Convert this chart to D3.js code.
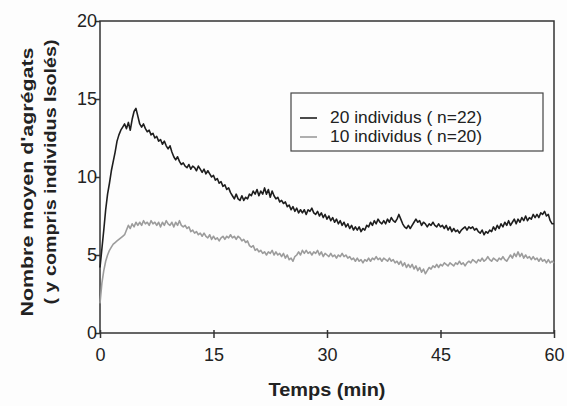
<!DOCTYPE html>
<html>
<head>
<meta charset="utf-8">
<script src="https://cdn.jsdelivr.net/npm/d3@7/dist/d3.min.js"></script>
<style>
  html, body { margin: 0; padding: 0; background: #fff; }
  svg { display: block; font-family: "Liberation Sans", Arial, sans-serif; }
</style>
</head>
<body>
<svg id="chart" width="567" height="406"></svg>
<script>
// ---- data ----
const timeStep = 0.25; // minutes between samples
const xTicks = [0, 15, 30, 45, 60];
const yTicks = [0, 5, 10, 15, 20];
const seriesNames = ["20 individus ( n=22)", "10 individus ( n=20)"];
const xTitle = "Temps (min)";
const yTitle1 = "Nombre moyen d'agrégats";
const yTitle2 = "( y compris individus Isolés)";

// 20 individus (n=22), one value every 0.25 min from 0 to 60
const ind20 = [
  4.2, 5.4, 6.6, 7.9,      // 0
  8.9, 9.6, 10.4, 11.0,    // 1
  11.6, 12.3, 12.7, 13.0,  // 2
  13.2, 13.4, 13.1, 13.5,  // 3
  13.0, 13.7, 14.2, 14.4,  // 4
  13.9, 13.4, 13.2, 13.4,  // 5
  13.1, 12.9, 13.0, 12.7,  // 6
  12.8, 12.5, 12.6, 12.3,  // 7
  12.4, 12.1, 12.3, 12.0,  // 8
  11.8, 12.0, 11.6, 11.3,  // 9
  11.1, 11.3, 11.0, 10.8,  // 10
  10.9, 10.7, 10.6, 10.8,  // 11
  10.5, 10.7, 10.6, 10.4,  // 12
  10.7, 10.5, 10.3, 10.5,  // 13
  10.2, 10.4, 10.2, 10.0,  // 14
  10.1, 9.8, 9.9, 9.6,     // 15
  9.7, 9.4, 9.5, 9.2,      // 16
  9.3, 9.0, 8.8, 8.6,      // 17
  8.9, 8.6, 8.5, 8.8,      // 18
  8.5, 8.7, 8.6, 8.9,      // 19
  8.8, 9.1, 8.9, 9.2,      // 20
  8.8, 9.1, 8.9, 9.3,      // 21
  8.9, 9.2, 8.7, 9.1,      // 22
  8.8, 8.6, 8.7, 8.4,      // 23
  8.5, 8.3, 8.4, 8.1,      // 24
  8.2, 7.9, 8.1, 7.8,      // 25
  8.0, 7.7, 7.9, 7.7,      // 26
  7.9, 7.6, 7.9, 7.8,      // 27
  8.0, 7.7, 7.6, 7.8,      // 28
  7.5, 7.7, 7.4, 7.6,      // 29
  7.3, 7.5, 7.2, 7.4,      // 30
  7.1, 7.3, 7.0, 7.2,      // 31
  6.9, 7.1, 6.8, 7.0,      // 32
  6.7, 6.9, 6.6, 6.8,      // 33
  6.6, 6.8, 6.5, 6.7,      // 34
  6.6, 6.9, 6.8, 7.1,      // 35
  6.9, 7.2, 7.0, 7.3,      // 36
  7.1, 7.0, 7.2, 7.0,      // 37
  7.3, 7.1, 7.4, 7.2,      // 38
  7.1, 7.3, 7.6, 7.3,      // 39
  7.0, 6.8, 6.7, 6.9,      // 40
  6.7, 6.9, 7.1, 7.3,      // 41
  7.1, 7.2, 6.9, 7.1,      // 42
  7.0, 6.8, 7.0, 6.9,      // 43
  7.1, 6.9, 6.8, 7.0,      // 44
  6.8, 6.9, 6.7, 6.9,      // 45
  6.6, 6.8, 6.5, 6.7,      // 46
  6.5, 6.6, 6.4, 6.6,      // 47
  6.7, 6.8, 6.6, 6.8,      // 48
  6.7, 6.8, 6.6, 6.7,      // 49
  6.5, 6.4, 6.6, 6.3,      // 50
  6.5, 6.4, 6.6, 6.5,      // 51
  6.8, 6.6, 6.9, 6.7,      // 52
  7.0, 6.8, 7.1, 6.9,      // 53
  7.2, 6.9, 7.1, 7.3,      // 54
  7.0, 7.3, 7.1, 7.4,      // 55
  7.2, 7.5, 7.2, 7.4,      // 56
  7.3, 7.6, 7.4, 7.6,      // 57
  7.4, 7.7, 7.6, 7.8,      // 58
  7.5, 7.6, 7.2, 7.0,      // 59
  7.0                      // 60
];

// 10 individus (n=20), one value every 0.25 min from 0 to 60
const ind10 = [
  1.9, 3.2, 4.0, 4.6,      // 0
  5.0, 5.3, 5.5, 5.7,      // 1
  5.8, 5.9, 6.0, 6.1,      // 2
  6.2, 6.3, 6.6, 6.9,      // 3
  6.7, 7.0, 6.8, 7.1,      // 4
  6.9, 7.1, 6.9, 7.2,      // 5
  7.0, 7.1, 6.9, 7.2,      // 6
  7.0, 7.1, 6.9, 7.1,      // 7
  6.8, 7.1, 6.9, 7.2,      // 8
  7.0, 6.9, 7.1, 6.8,      // 9
  7.1, 6.9, 7.2, 6.9,      // 10
  6.8, 6.9, 6.7, 6.8,      // 11
  6.5, 6.6, 6.4, 6.5,      // 12
  6.3, 6.4, 6.2, 6.4,      // 13
  6.2, 6.1, 6.3, 6.0,      // 14
  6.2, 6.0, 6.1, 5.9,      // 15
  6.1, 6.2, 6.0, 6.2,      // 16
  6.1, 6.3, 6.1, 6.2,      // 17
  6.0, 6.2, 6.1, 5.9,      // 18
  6.0, 5.8, 5.9, 5.6,      // 19
  5.5, 5.6, 5.3, 5.4,      // 20
  5.2, 5.3, 5.1, 5.2,      // 21
  5.0, 5.2, 5.1, 5.3,      // 22
  5.0, 5.2, 5.0, 5.1,      // 23
  4.9, 5.1, 4.8, 5.0,      // 24
  4.7, 4.8, 4.6, 4.9,      // 25
  5.0, 5.2, 5.0, 5.3,      // 26
  5.1, 5.3, 5.1, 5.2,      // 27
  5.0, 5.2, 5.1, 5.3,      // 28
  5.0, 5.2, 4.9, 5.1,      // 29
  5.0, 4.9, 5.1, 4.9,      // 30
  5.0, 4.8, 5.0, 4.9,      // 31
  5.1, 4.9, 5.0, 4.8,      // 32
  4.9, 4.7, 4.8, 4.6,      // 33
  4.8, 4.6, 4.7, 4.5,      // 34
  4.7, 4.6, 4.8, 4.6,      // 35
  4.8, 4.7, 4.9, 4.7,      // 36
  4.8, 4.6, 4.8, 4.7,      // 37
  4.6, 4.8, 4.6, 4.7,      // 38
  4.5, 4.6, 4.4, 4.6,      // 39
  4.3, 4.5, 4.2, 4.4,      // 40
  4.2, 4.4, 4.1, 4.3,      // 41
  4.0, 4.2, 3.9, 4.1,      // 42
  3.8, 4.0, 4.2, 4.1,      // 43
  4.3, 4.2, 4.4, 4.2,      // 44
  4.4, 4.3, 4.5, 4.4,      // 45
  4.3, 4.5, 4.4, 4.3,      // 46
  4.5, 4.4, 4.6, 4.4,      // 47
  4.5, 4.3, 4.5, 4.6,      // 48
  4.5, 4.7, 4.6, 4.5,      // 49
  4.7, 4.6, 4.8, 4.6,      // 50
  4.7, 4.9, 4.7, 4.6,      // 51
  4.8, 4.7, 4.6, 4.8,      // 52
  4.7, 4.9, 4.7, 4.6,      // 53
  4.8, 5.0, 4.8, 5.1,      // 54
  4.9, 5.2, 4.9, 5.1,      // 55
  4.8, 5.0, 4.8, 4.9,      // 56
  4.7, 4.9, 4.7, 4.8,      // 57
  4.6, 4.8, 4.6, 4.7,      // 58
  4.5, 4.7, 4.5, 4.6,      // 59
  4.5                      // 60
];

const seriesColors = ["#1e1e1e", "#9c9c9c"];

// ---- chart ----
const svg = d3.select("#chart");
svg.append("rect").attr("width", 567).attr("height", 406).attr("fill", "#fdfdfd");

const x = d3.scaleLinear().domain([0, 60]).range([100, 554]);
const y = d3.scaleLinear().domain([0, 20]).range([333, 21]);

const axisColor = "#333";

// frame
svg.append("rect")
  .attr("x", x(0)).attr("y", y(20))
  .attr("width", x(60) - x(0)).attr("height", y(0) - y(20))
  .attr("fill", "none").attr("stroke", axisColor).attr("stroke-width", 1.5);

// x axis
const gx = svg.append("g")
  .attr("transform", `translate(0,${y(0)})`)
  .call(d3.axisBottom(x).tickValues(xTicks).tickSizeInner(5).tickSizeOuter(0).tickPadding(10));
gx.select(".domain").remove();
gx.selectAll(".tick line").attr("stroke", axisColor).attr("stroke-width", 1.5).attr("y1", -3);
gx.selectAll(".tick text").attr("font-size", 18).attr("fill", "#222")
  .attr("font-family", "Liberation Sans, Arial, sans-serif");

// y axis
const gy = svg.append("g")
  .attr("transform", `translate(${x(0)},0)`)
  .call(d3.axisLeft(y).tickValues(yTicks).tickSizeInner(5).tickSizeOuter(0).tickPadding(-2));
gy.select(".domain").remove();
gy.selectAll(".tick line").attr("stroke", axisColor).attr("stroke-width", 1.5);
gy.selectAll(".tick text").attr("font-size", 18).attr("fill", "#222")
  .attr("font-family", "Liberation Sans, Arial, sans-serif");

// lines
const line = d3.line()
  .x((d, i) => x(i * timeStep))
  .y(d => y(d));

[ind20, ind10].forEach((s, k) => {
  svg.append("path")
    .datum(s)
    .attr("d", line)
    .attr("fill", "none")
    .attr("stroke", seriesColors[k])
    .attr("stroke-width", 1.6)
    .attr("stroke-linejoin", "round");
});

// legend
const lg = svg.append("g");
lg.append("rect")
  .attr("x", 291).attr("y", 93).attr("width", 252).attr("height", 58)
  .attr("fill", "#fdfdfd").attr("stroke", "#444").attr("stroke-width", 1.2);
seriesNames.forEach((name, k) => {
  const by = 123 + k * 19;
  lg.append("line")
    .attr("x1", 300).attr("x2", 317).attr("y1", by - 5).attr("y2", by - 5)
    .attr("stroke", seriesColors[k]).attr("stroke-width", 1.6);
  lg.append("text")
    .attr("x", 330).attr("y", by)
    .attr("font-size", 17).attr("fill", "#222")
    .attr("textLength", 152).attr("lengthAdjust", "spacingAndGlyphs")
    .text(name);
});

// axis titles
svg.append("text")
  .attr("x", 327).attr("y", 396)
  .attr("text-anchor", "middle")
  .attr("font-size", 18).attr("font-weight", "bold").attr("fill", "#222")
  .attr("textLength", 117).attr("lengthAdjust", "spacingAndGlyphs")
  .text(xTitle);

svg.append("text")
  .attr("transform", "translate(33,182) rotate(-90)")
  .attr("text-anchor", "middle")
  .attr("font-size", 17).attr("font-weight", "bold").attr("fill", "#222")
  .attr("textLength", 269).attr("lengthAdjust", "spacingAndGlyphs")
  .text(yTitle1);

svg.append("text")
  .attr("transform", "translate(56,172) rotate(-90)")
  .attr("text-anchor", "middle")
  .attr("font-size", 17).attr("font-weight", "bold").attr("fill", "#222")
  .attr("textLength", 265).attr("lengthAdjust", "spacingAndGlyphs")
  .text(yTitle2);
</script>
</body>
</html>
